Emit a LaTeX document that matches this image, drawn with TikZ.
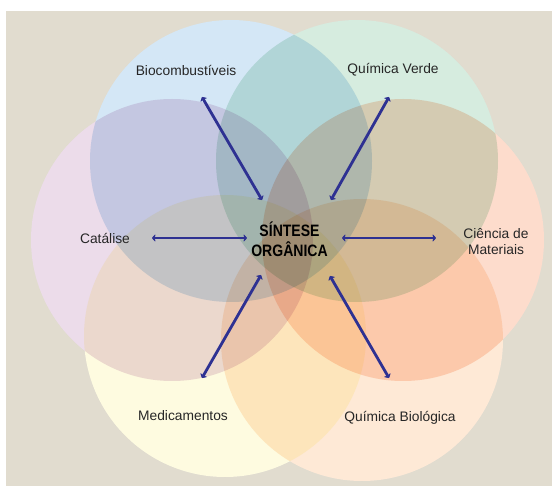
\documentclass[tikz,border=0pt]{standalone}
\usepackage{fontspec}
\setmainfont{Liberation Sans}
\newfontfamily\centerfont[FakeStretch=0.85]{Liberation Sans}
\usetikzlibrary{arrows.meta}
\definecolor{bgbeige}{HTML}{E1DCCF}
\definecolor{cblue}{HTML}{D4E7F6}
\definecolor{cgreen}{HTML}{D6ECDF}
\definecolor{cpurple}{HTML}{ECDCEA}
\definecolor{cred}{HTML}{FDDCCC}
\definecolor{cyellow}{HTML}{FEFBE0}
\definecolor{cpeach}{HTML}{FEE9D6}
\definecolor{arrowblue}{HTML}{2E3192}
\tikzset{
  petal/.style={blend mode=multiply},
  label/.style={font=\fontsize{13.8}{16}\selectfont, text=black!85, inner sep=1pt, align=center},
  centerlabel/.style={font=\centerfont\bfseries\fontsize{16.5}{20}\selectfont, align=center, inner sep=1pt},
  link/.style={draw=arrowblue, line width=2.8pt, {Stealth[length=4pt,width=9pt,round]}-{Stealth[length=4pt,width=9pt,round]}}
}
\begin{document}
\begin{tikzpicture}[x=1pt,y=-1pt]
\useasboundingbox (0,0) rectangle (552,486);
\fill[white] (0,0) rectangle (552,486);
\fill[bgbeige] (6,11) rectangle (552,486);
% white underlay of the union
\foreach \cx/\cy in {231/161,357/161,172/240,403/240,225/336,362/340}
  \fill[white] (\cx,\cy) circle[radius=141];
\fill[cblue,petal] (231,161) circle[radius=141];
\fill[cgreen,petal] (357,161) circle[radius=141];
\fill[cpurple,petal] (172,240) circle[radius=141];
\fill[cred,petal] (403,240) circle[radius=141];
\fill[cyellow,petal] (225,336) circle[radius=141];
\fill[cpeach,petal] (362,340) circle[radius=141];
% labels
\node[label] (bio) at (186,70) {Biocombustíveis};
\node[label] (verde) at (393,70) {Química Verde};
\node[label] (cat) at (105,238) {Catálise};
\node[label] (mat) at (496,242) {Ciência de\\Materiais};
\node[label] (med) at (183,416) {Medicamentos};
\node[label] (biol) at (400,418) {Química Biológica};
\node[centerlabel] (centro) at (289.5,239) {SÍNTESE\\ORGÂNICA};
% arrow end points
\coordinate (a1) at (202,97);  \coordinate (b1) at (262,200);
\coordinate (a2) at (389,97);  \coordinate (b2) at (331,200);
\coordinate (a3) at (152,238); \coordinate (b3) at (247,238);
\coordinate (a4) at (436,238); \coordinate (b4) at (342,238);
\coordinate (a5) at (202,378); \coordinate (b5) at (261,275);
\coordinate (a6) at (389,378); \coordinate (b6) at (330,276);
\foreach \i in {1,...,6} \draw[link] (a\i) -- (b\i);
\end{tikzpicture}
\end{document}
